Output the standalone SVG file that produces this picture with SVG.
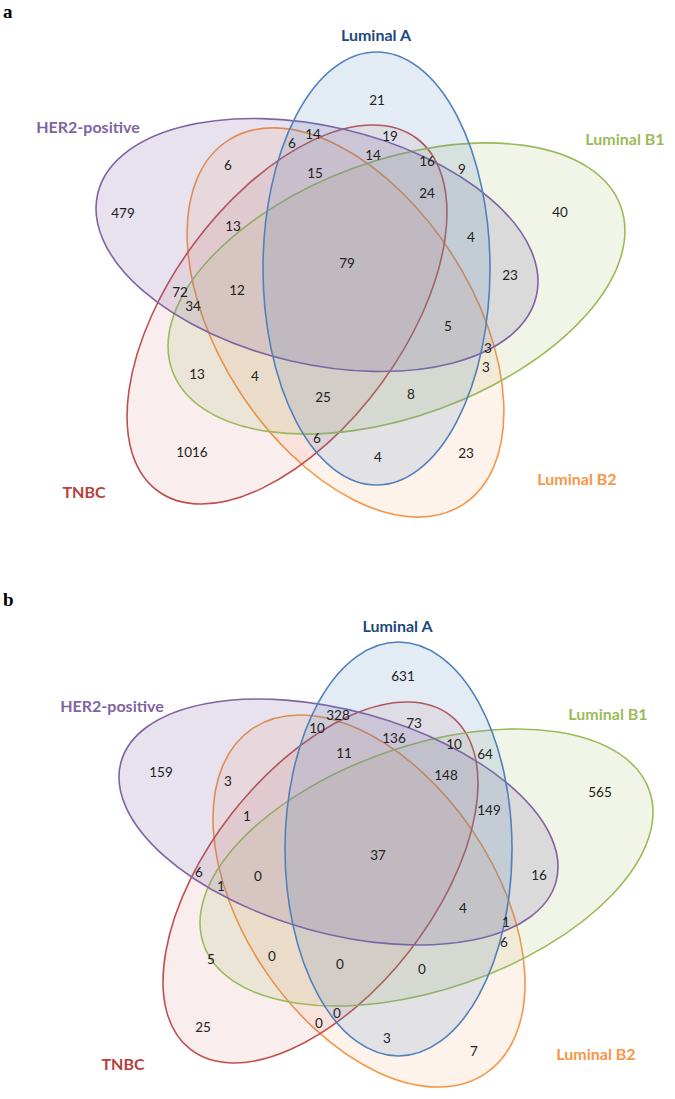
<svg xmlns="http://www.w3.org/2000/svg" width="675" height="1099" viewBox="0 0 675 1099">
<style>
.set{stroke-width:1.6}
.la{fill:#4f81bd;fill-opacity:.16;stroke:#4f81bd}
.lb1{fill:#9bbb59;fill-opacity:.14;stroke:#9bbb59}
.her{fill:#8064a2;fill-opacity:.19;stroke:#8064a2}
.tn{fill:#c0504d;fill-opacity:.10;stroke:#c0504d}
.lb2{fill:#f79646;fill-opacity:.11;stroke:#f79646}
.lbl{font-family:Lato,"Liberation Sans",sans-serif;font-weight:bold;font-size:16px;text-anchor:middle}
.num{font-family:Lato,"Liberation Sans",sans-serif;font-size:13.5px;fill:#222;text-anchor:middle}
.panel{font-family:"Liberation Serif",serif;font-weight:bold;font-size:19px;fill:#000}
.tla{fill:#1f497d}.tb1{fill:#9bbb59}.ther{fill:#8064a2}.ttn{fill:#b5403d}.tb2{fill:#f79646}
</style>
<rect width="675" height="1099" fill="#fff"/>
<text class="panel" x="3" y="18">a</text>
<text class="panel" x="3" y="606">b</text>

<g id="panel-a">
<g id="a-luminalB2"><ellipse class="set lb2" cx="345.5" cy="322.5" rx="216.7" ry="126.5" transform="rotate(57.2 345.5 322.5)"/><text class="lbl tb2" x="577" y="485">Luminal B2</text></g>
<g id="a-tnbc"><ellipse class="set tn" cx="287" cy="314.5" rx="218.7" ry="116.9" transform="rotate(-53.8 287 314.5)"/><text class="lbl ttn" x="84" y="498">TNBC</text></g>
<g id="a-luminalB1"><ellipse class="set lb1" cx="396.5" cy="288.5" rx="238.8" ry="127.8" transform="rotate(-20.2 396.5 288.5)"/><text class="lbl tb1" x="625" y="145">Luminal B1</text></g>
<g id="a-her2"><ellipse class="set her" cx="317" cy="245" rx="225.2" ry="118.8" transform="rotate(13.1 317 245)"/><text class="lbl ther" x="88" y="133">HER2-positive</text></g>
<g id="a-luminalA"><ellipse class="set la" cx="376.5" cy="268.5" rx="113.5" ry="216.5"/><text class="lbl tla" x="376" y="41">Luminal A</text></g>
<g id="a-counts" class="num">
<text x="123" y="218">479</text>
<text x="228" y="170">6</text>
<text x="292" y="148">6</text>
<text x="313" y="139">14</text>
<text x="315" y="178">15</text>
<text x="233" y="231">13</text>
<text x="377" y="105">21</text>
<text x="390" y="141">19</text>
<text x="373" y="160">14</text>
<text x="427" y="166">16</text>
<text x="462" y="174">9</text>
<text x="427" y="198">24</text>
<text x="560" y="217">40</text>
<text x="471" y="242">4</text>
<text x="347" y="268">79</text>
<text x="510" y="280">23</text>
<text x="180" y="297">72</text>
<text x="193" y="311">34</text>
<text x="237" y="295">12</text>
<text x="197" y="379">13</text>
<text x="255" y="381">4</text>
<text x="323" y="402">25</text>
<text x="317" y="443">6</text>
<text x="192" y="457">1016</text>
<text x="448" y="331">5</text>
<text x="488" y="353">3</text>
<text x="486" y="372">3</text>
<text x="411" y="399">8</text>
<text x="378" y="462">4</text>
<text x="466" y="458">23</text>
</g>
</g>

<g id="panel-b">
<g id="b-luminalB2"><ellipse class="set lb2" cx="369" cy="901" rx="208.1" ry="125.1" transform="rotate(55.9 369 901)"/><text class="lbl tb2" x="596" y="1060">Luminal B2</text></g>
<g id="b-tnbc"><ellipse class="set tn" cx="320.5" cy="882.5" rx="211.6" ry="112.3" transform="rotate(-52 320.5 882.5)"/><text class="lbl ttn" x="123" y="1070">TNBC</text></g>
<g id="b-luminalB1"><ellipse class="set lb1" cx="426.5" cy="867.5" rx="235.8" ry="121.9" transform="rotate(-19 426.5 867.5)"/><text class="lbl tb1" x="608" y="720">Luminal B1</text></g>
<g id="b-her2"><ellipse class="set her" cx="338.5" cy="822" rx="225.6" ry="111.4" transform="rotate(15.4 338.5 822)"/><text class="lbl ther" x="112" y="712">HER2-positive</text></g>
<g id="b-luminalA"><ellipse class="set la" cx="398.5" cy="849" rx="113.5" ry="207"/><text class="lbl tla" x="397.5" y="632">Luminal A</text></g>
<g id="b-counts" class="num">
<text x="161" y="777">159</text>
<text x="228" y="786">3</text>
<text x="247" y="821">1</text>
<text x="317" y="733">10</text>
<text x="338" y="720">328</text>
<text x="403" y="681">631</text>
<text x="414" y="728">73</text>
<text x="394" y="743">136</text>
<text x="344" y="758">11</text>
<text x="454" y="749">10</text>
<text x="485" y="759">64</text>
<text x="446" y="780">148</text>
<text x="600" y="797">565</text>
<text x="489" y="815">149</text>
<text x="378" y="860">37</text>
<text x="199" y="877">6</text>
<text x="221" y="891">1</text>
<text x="258" y="881">0</text>
<text x="211" y="964">5</text>
<text x="272" y="961">0</text>
<text x="203" y="1032">25</text>
<text x="319" y="1028">0</text>
<text x="337" y="1018">0</text>
<text x="539" y="880">16</text>
<text x="463" y="913">4</text>
<text x="506" y="927">1</text>
<text x="504" y="947">6</text>
<text x="340" y="969">0</text>
<text x="422" y="974">0</text>
<text x="387" y="1043">3</text>
<text x="474" y="1056">7</text>
</g>
</g>
</svg>
